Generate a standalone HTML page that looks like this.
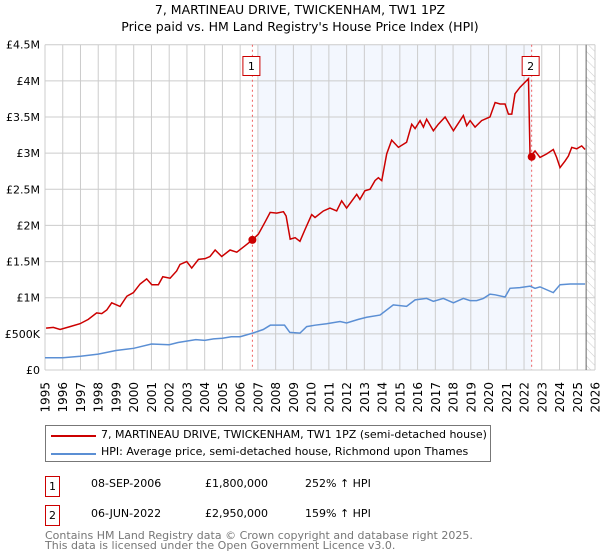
<!DOCTYPE html>
<html><head><meta charset="utf-8"><style>
body{margin:0;background:#fff;font-family:"DejaVu Sans","Liberation Sans",sans-serif;}
#wrap{position:relative;width:600px;height:560px;overflow:hidden}
.t{position:absolute;white-space:nowrap;color:#000}
</style></head><body><div id="wrap">
<div class="t" style="left:0;width:600px;text-align:center;top:2px;font-size:12.5px">7, MARTINEAU DRIVE, TWICKENHAM, TW1 1PZ</div>
<div class="t" style="left:0;width:600px;text-align:center;top:19px;font-size:12.5px">Price paid vs. HM Land Registry's House Price Index (HPI)</div>
<svg id="chart" width="600" height="420" style="position:absolute;left:0;top:0" font-family="DejaVu Sans, Liberation Sans, sans-serif"></svg>
<div style="position:absolute;left:45px;top:425px;width:446px;height:37px;border:1px solid #777;box-sizing:border-box">
<div><div style="position:absolute;left:5px;top:9px;width:45px;height:2px;background:#cc0000"></div><div class="t" style="left:55px;top:2px;font-size:11px">7, MARTINEAU DRIVE, TWICKENHAM, TW1 1PZ (semi-detached house)</div></div>
<div><div style="position:absolute;left:5px;top:27px;width:45px;height:2px;background:#5b8fd4"></div><div class="t" style="left:55px;top:19px;font-size:11px">HPI: Average price, semi-detached house, Richmond upon Thames</div></div>
</div>
<div>
<div class="t" style="left:45px;top:476px;width:13px;height:19px;border:1px solid #cc0000;font-size:11px;text-align:center;line-height:19px">1</div>
<div class="t" style="left:91px;top:477px;font-size:11px">08-SEP-2006</div>
<div class="t" style="left:205px;top:477px;font-size:11px">£1,800,000</div>
<div class="t" style="left:305px;top:477px;font-size:11px">252% ↑ HPI</div></div>
<div>
<div class="t" style="left:45px;top:505px;width:13px;height:19px;border:1px solid #cc0000;font-size:11px;text-align:center;line-height:19px">2</div>
<div class="t" style="left:91px;top:507px;font-size:11px">06-JUN-2022</div>
<div class="t" style="left:205px;top:507px;font-size:11px">£2,950,000</div>
<div class="t" style="left:305px;top:507px;font-size:11px">159% ↑ HPI</div></div>
<div class="t" style="left:45px;top:531px;font-size:11px;color:#777;line-height:10px">Contains HM Land Registry data © Crown copyright and database right 2025.<br>This data is licensed under the Open Government Licence v3.0.</div>
</div>
<script>
const yTicks=[0,0.5,1,1.5,2,2.5,3,3.5,4,4.5];
const yLabels=["£0","£500K","£1M","£1.5M","£2M","£2.5M","£3M","£3.5M","£4M","£4.5M"];
const years=[1995,1996,1997,1998,1999,2000,2001,2002,2003,2004,2005,2006,2007,2008,2009,2010,2011,2012,2013,2014,2015,2016,2017,2018,2019,2020,2021,2022,2023,2024,2025,2026];
const propYears=[1995.06,1995.47,1995.85,1996.41,1996.97,1997.44,1997.91,1998.2,1998.48,1998.76,1999.23,1999.61,1999.98,2000.36,2000.73,2001.02,2001.39,2001.64,2002.05,2002.42,2002.61,2002.99,2003.27,2003.65,2004.02,2004.3,2004.59,2004.96,2005.43,2005.81,2006.28,2006.69,2007.03,2007.41,2007.69,2008.06,2008.44,2008.59,2008.82,2009.1,2009.37,2009.65,2010.03,2010.22,2010.69,2011.06,2011.44,2011.72,2012.0,2012.57,2012.75,2013.03,2013.32,2013.6,2013.79,2013.98,2014.26,2014.54,2014.92,2015.38,2015.67,2015.86,2016.14,2016.33,2016.51,2016.89,2017.17,2017.55,2018.02,2018.58,2018.77,2018.96,2019.24,2019.61,2020.08,2020.37,2020.65,2020.93,2021.12,2021.31,2021.49,2021.77,2021.97,2022.25,2022.34,2022.62,2022.9,2023.28,2023.65,2023.84,2024.03,2024.31,2024.5,2024.69,2024.97,2025.25,2025.44];
const propValues=[0.58,0.59,0.56,0.6,0.64,0.7,0.79,0.78,0.83,0.93,0.88,1.02,1.07,1.19,1.26,1.18,1.18,1.29,1.27,1.37,1.46,1.5,1.41,1.53,1.54,1.57,1.66,1.57,1.66,1.63,1.72,1.8,1.88,2.05,2.18,2.17,2.19,2.13,1.81,1.83,1.78,1.94,2.15,2.11,2.2,2.24,2.2,2.34,2.24,2.43,2.36,2.48,2.5,2.62,2.66,2.62,2.99,3.18,3.08,3.15,3.4,3.34,3.45,3.36,3.47,3.31,3.4,3.5,3.31,3.52,3.38,3.45,3.36,3.45,3.5,3.7,3.68,3.68,3.54,3.54,3.82,3.91,3.96,4.03,2.95,3.03,2.94,2.99,3.05,2.94,2.8,2.89,2.96,3.08,3.06,3.1,3.05];
const hpiYears=[1995,1996,1997,1998,1999,2000,2001,2002,2002.5,2003.5,2004,2004.5,2005,2005.5,2006,2006.7,2007.3,2007.7,2008.5,2008.8,2009.37,2009.75,2010.22,2010.87,2011.63,2012.0,2012.66,2013.13,2013.88,2014.63,2015.38,2015.86,2016.51,2016.89,2017.45,2018.02,2018.58,2018.96,2019.33,2019.71,2020.08,2020.37,2020.93,2021.21,2021.77,2022.34,2022.62,2022.9,2023.65,2024.03,2024.6,2025.44];
const hpiValues=[0.17,0.17,0.19,0.22,0.27,0.3,0.36,0.35,0.38,0.42,0.41,0.43,0.44,0.46,0.46,0.51,0.56,0.62,0.62,0.52,0.51,0.6,0.62,0.64,0.67,0.65,0.7,0.73,0.76,0.9,0.88,0.97,0.99,0.95,0.99,0.93,0.99,0.96,0.96,0.99,1.05,1.04,1.01,1.13,1.14,1.16,1.13,1.15,1.07,1.18,1.19,1.19];
const sales=[[2006.69,1.8,"1"],[2022.43,2.95,"2"]];
const NS="http://www.w3.org/2000/svg";
const svg=document.getElementById('chart');
const L=45,R=595,T=44.7,B=370;
const x=v=>L+(v-1995)/(2026-1995)*(R-L);
const y=v=>B-v/4.5*(B-T);
function mk(tag,attrs,parent){const e=document.createElementNS(NS,tag);for(const k in attrs)e.setAttribute(k,attrs[k]);(parent||svg).appendChild(e);return e;}
const shade=mk('rect',{x:x(2007),y:T,width:x(2022.43)-x(2007),height:B-T,fill:'#eef3fd',opacity:0.7});


const defs=mk('defs',{});
const pat=mk('pattern',{id:'hatch',width:6,height:6,patternUnits:'userSpaceOnUse',patternTransform:'rotate(-45)'},defs);
mk('line',{x1:0,y1:0,x2:0,y2:6,stroke:'#ccc','stroke-width':1},pat);
const hat=mk('rect',{x:x(2025.5),y:T,width:R-x(2025.5),height:B-T,fill:'url(#hatch)'});


years.forEach(yr=>{const g=mk('line',{x1:x(yr),x2:x(yr),y1:T,y2:B,stroke:'#ccc','stroke-width':1});


const t=mk('text',{x:0,y:0,'font-size':12,'text-anchor':'end',transform:`translate(${x(yr)+4.5},${B+12}) rotate(-90)`});t.textContent=yr;

});
yTicks.forEach((v,i)=>{const g=mk('line',{x1:L,x2:R,y1:y(v),y2:y(v),stroke:'#ccc','stroke-width':1});


const t=mk('text',{x:L-5,y:y(v)+4,'font-size':11,'text-anchor':'end'});t.textContent=yLabels[i];

});
const edge=mk('line',{x1:x(2025.5),x2:x(2025.5),y1:T,y2:B,stroke:'#666','stroke-width':1});


sales.forEach(s=>{const d=mk('line',{x1:x(s[0]),x2:x(s[0]),y1:T,y2:B,stroke:'#f06060','stroke-width':1,'stroke-dasharray':'2,3'});

});
const hp=mk('polyline',{points:hpiYears.map((v,i)=>x(v)+','+y(hpiValues[i])).join(' '),fill:'none',stroke:'#5b8fd4','stroke-width':1.5});


const pp=mk('polyline',{points:propYears.map((v,i)=>x(v)+','+y(propValues[i])).join(' '),fill:'none',stroke:'#cc0000','stroke-width':1.5});


sales.forEach(s=>{const c=mk('circle',{cx:x(s[0]),cy:y(s[1]),r:4,fill:'#cc0000'});


const bx=x(s[0])-9;const r=mk('rect',{x:bx-0.5,y:56.5,width:17,height:19,fill:'#fff',stroke:'#cc0000'});


const t=mk('text',{x:bx+8,y:70,'font-size':11,'text-anchor':'middle'});t.textContent=s[2];

});
</script>
</body></html>
